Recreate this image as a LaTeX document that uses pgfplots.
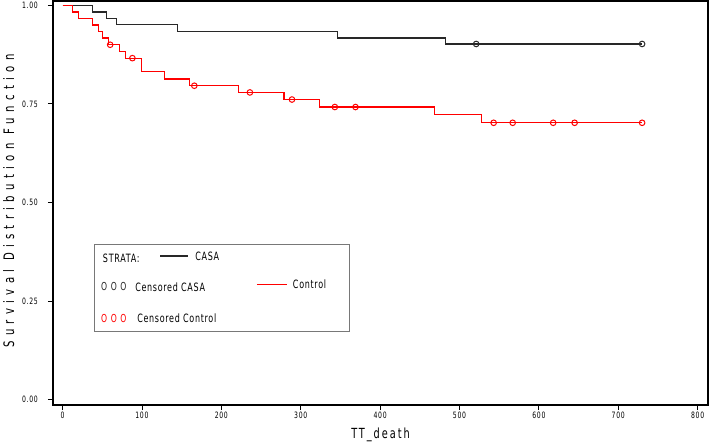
\documentclass[border=0pt]{standalone}
\usepackage{fontspec}
\setmainfont{DejaVu Sans}[FakeStretch=0.75]
\newfontfamily\tickfont{DejaVu Sans}[FakeStretch=0.7,LetterSpace=8]
\newfontfamily\ylabfont{DejaVu Sans}[FakeStretch=0.7,LetterSpace=37]
\newfontfamily\xlabfont{DejaVu Sans}[FakeStretch=0.7,LetterSpace=14]
\newfontfamily\legfont{DejaVu Sans}[FakeStretch=0.7,LetterSpace=6]
\usepackage{pgfplots}
\pgfplotsset{compat=1.18}
\definecolor{sasred}{RGB}{255,0,0}
\definecolor{casagray}{RGB}{40,40,40}
\definecolor{legframe}{RGB}{120,120,120}

\begin{document}
\begin{tikzpicture}
	\begin{axis}[
		name=ax,
		scale only axis,
		width=655bp,
		height=404bp,
		xmin=-12, xmax=813,
		ymin=-0.014, ymax=1.011,
		xtick={0,100,...,800},
		ytick={0,0.25,0.5,0.75,1},
		tick pos=left,
		tick align=outside,
		major tick length=5bp,
		tick style={black, line width=0.8bp},
		axis line style={black, line width=1.1bp},
		/pgf/number format/assume math mode=true,
		yticklabel={\pgfmathprintnumber[fixed,fixed zerofill,precision=2]{\tick}},
		yticklabel style={font=\tickfont\fontsize{8.8}{10}\selectfont, inner sep=0, anchor=east, xshift=-10bp},
		xticklabel style={font=\tickfont\fontsize{8.8}{10}\selectfont, inner sep=0, anchor=north, yshift=-2bp},
		xlabel={TT\_death},
		ylabel={Survival Distribution Function},
		xlabel style={font=\xlabfont\fontsize{14}{16}\selectfont, at={(axis description cs:0.5,0)}, anchor=base, yshift=-33bp, inner sep=0},
		ylabel style={font=\ylabfont\fontsize{14.5}{16}\selectfont, at={(axis description cs:-0.0763,0.505)}, anchor=north, inner sep=0},
		]
		% CASA
		\addplot[casagray, line width=1.1bp, const plot, mark=none] coordinates {
			(0,1) (38,0.983) (55,0.966) (68,0.951) (145,0.934) (346,0.917) (482,0.902) (730,0.902)};
		\addplot[casagray, only marks, mark=o, mark size=2.8bp, mark options={line width=1bp}] coordinates {
			(521,0.902) (730,0.902)};
		% Control
		\addplot[sasred, line width=1.1bp, const plot, mark=none] coordinates {
			(0,1) (13,0.983) (20,0.966) (38,0.950) (45,0.933) (50,0.917) (58,0.900) (72,0.883) (79,0.866)
			(99,0.832) (128,0.813) (160,0.796) (222,0.779) (279,0.761) (324,0.742) (469,0.724) (528,0.702) (730,0.702)};
		\addplot[sasred, only marks, mark=o, mark size=2.8bp, mark options={line width=1bp}] coordinates {
			(60,0.900) (88,0.866) (166,0.796) (236,0.779) (289,0.761) (343,0.742) (369,0.742)
			(543,0.702) (567,0.702) (618,0.702) (645,0.702) (730,0.702)};
		% legend
		\draw[legframe, line width=0.8bp] (axis cs:39.7,0.393) rectangle (axis cs:361,0.172);
		\node[anchor=west, inner sep=0, font=\legfont\fontsize{11.5}{13}\selectfont] at (axis cs:50.7,0.359) {STRATA:};
		\draw[casagray, line width=1.1bp] (axis cs:123,0.364) -- (axis cs:158,0.364);
		\node[anchor=west, inner sep=0, font=\legfont\fontsize{11.5}{13}\selectfont] at (axis cs:167,0.364) {CASA};
		\node[anchor=west, inner sep=0, text=casagray, font=\legfont\fontsize{11}{13}\selectfont] at (axis cs:48.5,0.286) {O\hspace{3.5bp}O\hspace{3.5bp}O};
		\node[anchor=west, inner sep=0, font=\legfont\fontsize{11.5}{13}\selectfont] at (axis cs:91.4,0.286) {Censored CASA};
		\draw[sasred, line width=1.1bp] (axis cs:244.7,0.292) -- (axis cs:282.5,0.292);
		\node[anchor=west, inner sep=0, font=\legfont\fontsize{11.5}{13}\selectfont] at (axis cs:290,0.292) {Control};
		\node[anchor=west, inner sep=0, text=sasred, font=\legfont\fontsize{11}{13}\selectfont] at (axis cs:48.5,0.206) {O\hspace{3.5bp}O\hspace{3.5bp}O};
		\node[anchor=west, inner sep=0, font=\legfont\fontsize{11.5}{13}\selectfont] at (axis cs:93.9,0.206) {Censored Control};
	\end{axis}
	\pgfresetboundingbox
	\path[use as bounding box] ([shift={(-53bp,-38bp)}]ax.south west) rectangle ([shift={(1bp,1bp)}]ax.north east);
\end{tikzpicture}
\end{document}
